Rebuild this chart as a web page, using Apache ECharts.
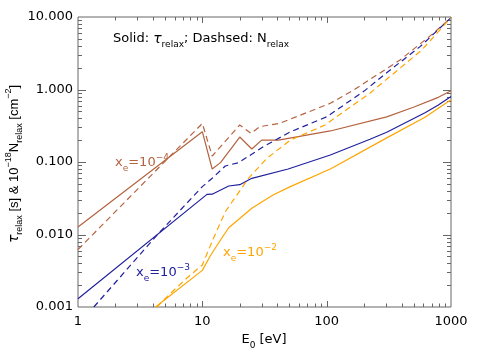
<!DOCTYPE html>
<html><head><meta charset="utf-8">
<script src="https://cdn.jsdelivr.net/npm/echarts@6/dist/echarts.min.js"></script>
<style>html,body{margin:0;padding:0;background:#fff}#c{width:485px;height:350px}</style>
</head><body><div id="c"></div>
<script>
// ---- data ----
const xTickLabels = ['1', '10', '100', '1000'];
const yTickLabels = ['0.001', '0.010', '0.100', '1.000', '10.000'];

// x_e = 1e-4 (brown)
const tau4E = [1, 10, 12, 14, 20, 25, 30, 41, 107, 304, 498, 791, 1000];
const tau4V = [0.0127, 0.262, 0.080, 0.098, 0.221, 0.151, 0.20, 0.20, 0.268, 0.42, 0.568, 0.78, 0.96];
const n4E = [1, 10, 12, 20, 24.6, 29, 42, 69, 107, 164, 389, 721, 1000];
const n4V = [0.0062, 0.34, 0.121, 0.324, 0.249, 0.307, 0.342, 0.479, 0.645, 0.98, 2.55, 5.96, 9.8];

// x_e = 1e-3 (blue)
const tau3E = [1, 10.9, 12, 16.3, 20, 25, 49, 107, 223, 304, 618, 791, 1000];
const tau3V = [0.0013, 0.0358, 0.036, 0.0467, 0.0486, 0.0596, 0.080, 0.125, 0.206, 0.257, 0.478, 0.61, 0.80];
const n3E = [1.34, 4.46, 6.87, 10, 12, 15.3, 19.6, 31, 51, 100, 200, 304, 564, 1000];
const n3V = [0.001, 0.0104, 0.023, 0.0457, 0.0596, 0.088, 0.098, 0.163, 0.26, 0.42, 0.95, 1.7, 3.9, 9.8];

// x_e = 1e-2 (orange)
const tau2E = [4.2, 10, 11.6, 14, 16.3, 25, 37, 51, 107, 304, 618, 791, 1000];
const tau2V = [0.001, 0.0032, 0.0051, 0.0084, 0.0124, 0.023, 0.035, 0.0457, 0.080, 0.215, 0.414, 0.55, 0.72];
const n2E = [4.3, 6.1, 8, 10, 12.3, 15.3, 17.8, 23.5, 33, 51, 97, 223, 582, 1000];
const n2V = [0.001, 0.0018, 0.00276, 0.0038, 0.0089, 0.0206, 0.030, 0.0596, 0.112, 0.20, 0.324, 0.89, 3.5, 9.8];

// tick positions (axis values)
const xMinorTicks = [2,3,4,5,6,7,8,9,20,30,40,50,60,70,80,90,200,300,400,500,600,700,800,900];
const xMajorTicks = [10, 100];
const yMinorTicks = [0.002,0.003,0.004,0.005,0.006,0.007,0.008,0.009,0.02,0.03,0.04,0.05,0.06,0.07,0.08,0.09,
                     0.2,0.3,0.4,0.5,0.6,0.7,0.8,0.9,2,3,4,5,6,7,8,9];
const yMajorTicks = [0.01, 0.1, 1];

// ---- styles ----
const FONT = '"DejaVu Sans", "Liberation Sans", sans-serif';
const FONT2 = '"Liberation Sans", Arial, sans-serif';
const BROWN = '#b5633f', BLUE = '#20209e', ORANGE = '#ffa500';
const zip = (a, b) => a.map((v, i) => [v, b[i]]);

function lineSeries(name, E, V, color, dashed) {
  return {
    name, type: 'line', data: zip(E, V), symbol: 'none', silent: true,
    lineStyle: { color, width: 1.2, type: dashed ? [6, 4] : 'solid' },
    clip: true, z: 3
  };
}

const tickData = [];
xMinorTicks.forEach(v => tickData.push([v, 1, 0]));
xMajorTicks.forEach(v => tickData.push([v, 1, 1]));
yMinorTicks.forEach(v => tickData.push([1, v, 2]));
yMajorTicks.forEach(v => tickData.push([1, v, 3]));

// rich text styles (graphic text uses "fill")
const rich = (size, color, font) => ({
  m: { fontSize: size, lineHeight: 20, fill: color, fontFamily: font || FONT },
  s: { fontSize: Math.round(size * 0.66), lineHeight: 8, verticalAlign: 'bottom', fill: color, fontFamily: font || FONT },
  p: { fontSize: Math.round(size * 0.7), lineHeight: 9, verticalAlign: 'top', fill: color, fontFamily: font || FONT },
  g: { fontSize: size + 1, lineHeight: 20, fill: color, fontFamily: FONT, fontStyle: 'italic' }
});

const chart = echarts.init(document.getElementById('c'), null, { renderer: 'canvas' });
chart.setOption({
  animation: false,
  backgroundColor: '#fff',
  grid: { left: 78, right: 34, top: 17, bottom: 43, show: true, borderColor: '#666', borderWidth: 1, backgroundColor: 'transparent' },
  xAxis: {
    type: 'log', logBase: 10, min: 1, max: 1000,
    axisLine: { show: false }, axisTick: { show: false }, splitLine: { show: false },
    axisLabel: {
      margin: 8, color: '#000', fontSize: 13, fontFamily: FONT,
      formatter: v => xTickLabels[Math.round(Math.log10(v))]
    }
  },
  yAxis: {
    type: 'log', logBase: 10, min: 0.001, max: 10,
    axisLine: { show: false }, axisTick: { show: false }, splitLine: { show: false },
    axisLabel: {
      margin: 5, color: '#000', fontSize: 13, fontFamily: FONT,
      formatter: v => yTickLabels[Math.round(Math.log10(v)) + 3]
    }
  },
  series: [
    lineSeries('tau 1e-4', tau4E, tau4V, BROWN, false),
    lineSeries('N 1e-4', n4E, n4V, BROWN, true),
    lineSeries('tau 1e-3', tau3E, tau3V, BLUE, false),
    lineSeries('N 1e-3', n3E, n3V, BLUE, true),
    lineSeries('tau 1e-2', tau2E, tau2V, ORANGE, false),
    lineSeries('N 1e-2', n2E, n2V, ORANGE, true),
    {
      type: 'custom', silent: true, z: 2, data: tickData,
      renderItem(params, api) {
        const kind = api.value(2);
        const st = { stroke: '#666', lineWidth: 1 };
        const bl = api.coord([1, 0.001]);
        const tr = api.coord([1000, 10]);
        if (kind < 2) {
          const x = Math.round(api.coord([api.value(0), 1])[0]) + 0.5;
          const len = kind === 1 ? 6 : 3.5;
          return { type: 'group', children: [
            { type: 'line', shape: { x1: x, y1: bl[1], x2: x, y2: bl[1] - len }, style: st },
            { type: 'line', shape: { x1: x, y1: tr[1], x2: x, y2: tr[1] + len }, style: st }
          ]};
        } else {
          const y = Math.round(api.coord([1, api.value(1)])[1]) + 0.5;
          const len = kind === 3 ? 8 : 4;
          return { type: 'group', children: [
            { type: 'line', shape: { x1: bl[0], y1: y, x2: bl[0] + len, y2: y }, style: st },
            { type: 'line', shape: { x1: tr[0], y1: y, x2: tr[0] - len, y2: y }, style: st }
          ]};
        }
      }
    }
  ],
  graphic: [
    // axis titles
    { type: 'text', x: 14, y: 164, rotation: Math.PI / 2, z: 10, silent: true,
      style: { text: '{g|τ}{s|relax}{m| [s] & 10}{p|−18}{m|N}{s|relax}{m| [cm}{p|−2}{m|]}',
               rich: rich(13, '#000', FONT2), align: 'center', verticalAlign: 'middle' } },
    { type: 'text', x: 264, y: 340, z: 10, silent: true,
      style: { text: '{m|E}{s|0}{m| [eV]}', rich: rich(13, '#000'), align: 'center', verticalAlign: 'middle' } },
    // annotations
    { type: 'text', left: 113, top: 32, z: 10, silent: true,
      style: { text: '{m|Solid: }{g|τ}{s|relax}{m|; Dashsed: N}{s|relax}', rich: rich(13, '#000') } },
    { type: 'text', left: 115, top: 153, z: 10, silent: true,
      style: { text: '{m|x}{s|e}{m|=10}{p|−4}', rich: rich(13, BROWN) } },
    { type: 'text', left: 136, top: 263, z: 10, silent: true,
      style: { text: '{m|x}{s|e}{m|=10}{p|−3}', rich: rich(13, BLUE) } },
    { type: 'text', left: 223, top: 243, z: 10, silent: true,
      style: { text: '{m|x}{s|e}{m|=10}{p|−2}', rich: rich(13, ORANGE) } }
  ]
});
</script>
</body></html>
